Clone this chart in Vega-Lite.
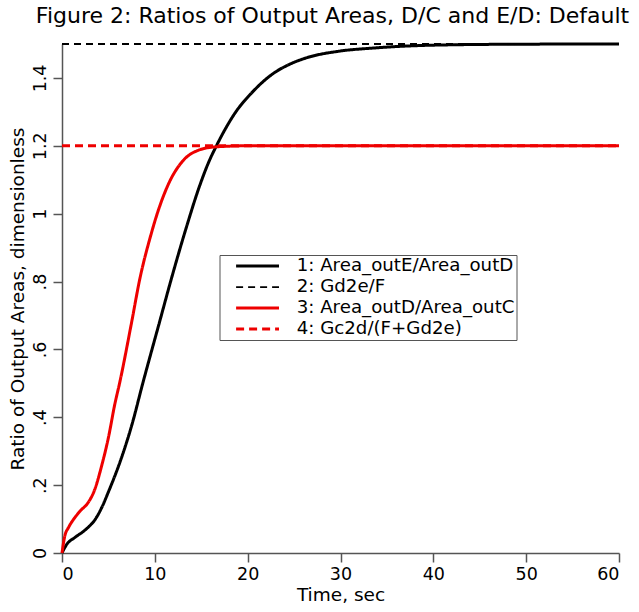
{
  "$schema": "https://vega.github.io/schema/vega-lite/v6.json",
  "width": 557,
  "height": 509,
  "autosize": {"type": "none"},
  "padding": {"left": 62, "top": 44, "right": 20, "bottom": 59},
  "background": "white",
  "title": {
    "text": "Figure 2: Ratios of Output Areas, D/C and E/D: Default",
    "font": "DejaVu Sans",
    "fontSize": 22,
    "fontWeight": "normal",
    "color": "#000",
    "anchor": "middle",
    "dx": -8,
    "offset": 10
  },
  "config": {
    "view": {"stroke": null},
    "axis": {
      "grid": false,
      "domainColor": "#555",
      "tickColor": "#555",
      "domainWidth": 1.5,
      "tickWidth": 1.5,
      "tickSize": 9,
      "labelFont": "DejaVu Sans",
      "labelFontSize": 17.5,
      "labelColor": "#000",
      "titleFont": "DejaVu Sans",
      "titleFontSize": 18.5,
      "titleFontWeight": "normal",
      "titleColor": "#000"
    }
  },
  "data": {
    "values": [
      {"series": "1: Area_outE/Area_outD", "t": 0, "v": 0},
      {"series": "1: Area_outE/Area_outD", "t": 0.5, "v": 0.025},
      {"series": "1: Area_outE/Area_outD", "t": 1.4, "v": 0.046},
      {"series": "1: Area_outE/Area_outD", "t": 2.5, "v": 0.068},
      {"series": "1: Area_outE/Area_outD", "t": 3.6, "v": 0.1},
      {"series": "1: Area_outE/Area_outD", "t": 4.3, "v": 0.135},
      {"series": "1: Area_outE/Area_outD", "t": 5.0, "v": 0.18},
      {"series": "1: Area_outE/Area_outD", "t": 6.4, "v": 0.28},
      {"series": "1: Area_outE/Area_outD", "t": 7.5, "v": 0.375},
      {"series": "1: Area_outE/Area_outD", "t": 8.7, "v": 0.5},
      {"series": "1: Area_outE/Area_outD", "t": 10.5, "v": 0.68},
      {"series": "1: Area_outE/Area_outD", "t": 11.8, "v": 0.81},
      {"series": "1: Area_outE/Area_outD", "t": 13.4, "v": 0.96},
      {"series": "1: Area_outE/Area_outD", "t": 14.8, "v": 1.08},
      {"series": "1: Area_outE/Area_outD", "t": 15.9, "v": 1.158},
      {"series": "1: Area_outE/Area_outD", "t": 16.6, "v": 1.198},
      {"series": "1: Area_outE/Area_outD", "t": 17.6, "v": 1.25},
      {"series": "1: Area_outE/Area_outD", "t": 18.6, "v": 1.295},
      {"series": "1: Area_outE/Area_outD", "t": 20.4, "v": 1.355},
      {"series": "1: Area_outE/Area_outD", "t": 22.7, "v": 1.412},
      {"series": "1: Area_outE/Area_outD", "t": 24.5, "v": 1.44},
      {"series": "1: Area_outE/Area_outD", "t": 26.3, "v": 1.459},
      {"series": "1: Area_outE/Area_outD", "t": 29.9, "v": 1.479},
      {"series": "1: Area_outE/Area_outD", "t": 33.5, "v": 1.488},
      {"series": "1: Area_outE/Area_outD", "t": 36.4, "v": 1.493},
      {"series": "1: Area_outE/Area_outD", "t": 40.7, "v": 1.497},
      {"series": "1: Area_outE/Area_outD", "t": 50, "v": 1.4995},
      {"series": "1: Area_outE/Area_outD", "t": 60, "v": 1.5},
      {"series": "2: Gd2e/F", "t": 0, "v": 1.5},
      {"series": "2: Gd2e/F", "t": 60, "v": 1.5},
      {"series": "3: Area_outD/Area_outC", "t": 0, "v": 0},
      {"series": "3: Area_outD/Area_outC", "t": 0.3, "v": 0.05},
      {"series": "3: Area_outD/Area_outC", "t": 0.7, "v": 0.075},
      {"series": "3: Area_outD/Area_outC", "t": 1.4, "v": 0.105},
      {"series": "3: Area_outD/Area_outC", "t": 2.0, "v": 0.125},
      {"series": "3: Area_outD/Area_outC", "t": 2.8, "v": 0.148},
      {"series": "3: Area_outD/Area_outC", "t": 3.5, "v": 0.185},
      {"series": "3: Area_outD/Area_outC", "t": 4.3, "v": 0.26},
      {"series": "3: Area_outD/Area_outC", "t": 5.0, "v": 0.34},
      {"series": "3: Area_outD/Area_outC", "t": 5.7, "v": 0.44},
      {"series": "3: Area_outD/Area_outC", "t": 6.2, "v": 0.5},
      {"series": "3: Area_outD/Area_outC", "t": 7.5, "v": 0.68},
      {"series": "3: Area_outD/Area_outC", "t": 8.4, "v": 0.81},
      {"series": "3: Area_outD/Area_outC", "t": 9.5, "v": 0.93},
      {"series": "3: Area_outD/Area_outC", "t": 10.5, "v": 1.02},
      {"series": "3: Area_outD/Area_outC", "t": 11.6, "v": 1.095},
      {"series": "3: Area_outD/Area_outC", "t": 13.0, "v": 1.155},
      {"series": "3: Area_outD/Area_outC", "t": 14.8, "v": 1.188},
      {"series": "3: Area_outD/Area_outC", "t": 16.6, "v": 1.197},
      {"series": "3: Area_outD/Area_outC", "t": 20, "v": 1.2},
      {"series": "3: Area_outD/Area_outC", "t": 60, "v": 1.2},
      {"series": "4: Gc2d/(F+Gd2e)", "t": 0, "v": 1.2},
      {"series": "4: Gc2d/(F+Gd2e)", "t": 60, "v": 1.2}
    ]
  },
  "mark": {"type": "line", "interpolate": "monotone"},
  "encoding": {
    "x": {
      "field": "t",
      "type": "quantitative",
      "scale": {"domain": [0, 60], "nice": false, "zero": false},
      "axis": {"values": [0, 10, 20, 30, 40, 50, 60], "title": "Time, sec", "labelPadding": 3, "titlePadding": 3}
    },
    "y": {
      "field": "v",
      "type": "quantitative",
      "scale": {"domain": [0, 1.5], "nice": false},
      "axis": {
        "values": [0, 0.2, 0.4, 0.6, 0.8, 1, 1.2, 1.4],
        "labelAngle": -90,
        "labelAlign": "center",
        "labelBaseline": "bottom",
        "labelPadding": 4,
        "labelExpr": "replace(format(datum.value, '.1~f'), '0.', '.')",
        "title": "Ratio of Output Areas, dimensionless",
        "titlePadding": 4
      }
    },
    "color": {
      "field": "series",
      "type": "nominal",
      "scale": {
        "domain": ["1: Area_outE/Area_outD", "2: Gd2e/F", "3: Area_outD/Area_outC", "4: Gc2d/(F+Gd2e)"],
        "range": ["#000000", "#000000", "#ee0000", "#ee0000"]
      },
      "legend": {
        "title": null,
        "orient": "none",
        "legendX": 157.5,
        "legendY": 211,
        "fillColor": "white",
        "strokeColor": "#555",
        "padding": 2,
        "rowPadding": 2,
        "symbolType": "M1,0H8.8",
        "symbolSize": 121,
        "labelFont": "DejaVu Sans",
        "labelFontSize": 18.2,
        "labelColor": "#000",
        "labelLimit": 400,
        "labelOffset": 57,
        "labelExpr": "datum.label + '\u00a0\u00a0'"
      }
    },
    "strokeDash": {
      "field": "series",
      "type": "nominal",
      "scale": {
        "domain": ["1: Area_outE/Area_outD", "2: Gd2e/F", "3: Area_outD/Area_outC", "4: Gc2d/(F+Gd2e)"],
        "range": [[1, 0], [7, 5], [1, 0], [8, 5]]
      },
      "legend": null
    },
    "strokeWidth": {
      "field": "series",
      "type": "nominal",
      "scale": {
        "type": "ordinal",
        "domain": ["1: Area_outE/Area_outD", "2: Gd2e/F", "3: Area_outD/Area_outC", "4: Gc2d/(F+Gd2e)"],
        "range": [3, 1.8, 3, 3]
      },
      "legend": null
    },
    "order": {"field": "series"}
  }
}
